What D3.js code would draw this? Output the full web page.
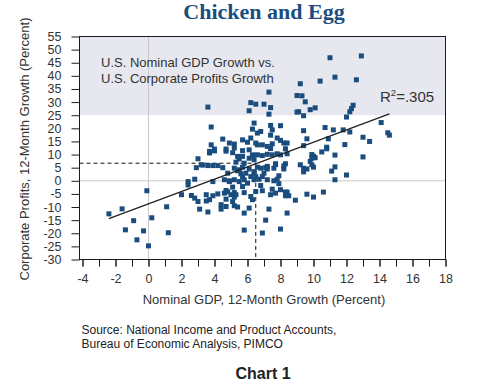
<!DOCTYPE html>
<html>
<head>
<meta charset="utf-8">
<script src="https://cdn.jsdelivr.net/npm/d3@7"></script>
<style>
  body{margin:0;background:#fff;}
  svg{display:block;font-family:"Liberation Sans",Arial,sans-serif;}
</style>
</head>
<body>
<svg id="chart" width="481" height="384"></svg>
<script>
// Nominal GDP growth (x) vs corporate profits growth (y), 12-month %
const gdpGrowth = [
  -2.4,-1.6,-0.9,-1.4,-0.7,-0.3,-0.1,0.2,0.0,1.1,1.2,
  2.0,2.4,2.4,2.8,2.6,2.8,3.0,3.1,3.6,3.5,3.7,3.9,4.2,4.4,4.4,4.7,4.7,4.7,4.8,4.9,
  5.1,5.2,5.3,5.2,5.1,5.2,5.4,5.8,5.8,6.3,6.1,6.5,6.8,6.9,6.9,7.1,7.3,7.5,8.0,7.9,
  7.8,7.6,7.9,8.3,8.4,8.3,8.5,8.9,9.6,10.0,10.6,8.4,11.3,11.1,11.3,12.0,9.2,9.4,9.4,9.6,
  9.9,9.8,9.9,10.1,9.9,10.0,7.7,8.2,8.3,7.6,8.2,
  11.0,12.9,9.2,10.4,11.3,12.6,9.3,9.5,9.1,9.4,9.8,10.1,12.4,12.3,12.2,12.0,14.1,14.5,14.6,13.0,
  13.4,10.7,11.2,11.8,12.2,9.4,9.6,9.4,10.9,10.8,10.8,10.5,11.9,11.3,13.0,10.0,8.0,7.5,7.4,7.8,
  8.0,8.2,8.4,7.5,7.4,8.3,8.4,8.0,7.8,7.5,
  3.6,7.3,6.2,6.5,7.0,7.4,6.1,7.3,9.0,9.0,3.8,6.4,7.4,6.3,6.6,6.8,
  4.5,4.9,5.2,5.7,6.0,6.2,6.5,6.9,7.2,5.2,3.8,4.0,3.7,4.7,5.7,6.1,6.6,
  3.0,2.9,3.2,3.3,3.6,3.9,4.2,4.5,3.7,4.0,4.7,5.1,5.3,5.5,5.7,5.8,6.1,6.3,6.4,6.6,6.9,7.2,7.7,7.2,7.1,
  5.2,5.5,5.7,5.9,6.1,6.4,6.6,6.8,7.0,7.2,5.4,6.3,
  4.6,4.9,5.2,5.7,5.8,6.0,6.2,6.4,6.7,7.2,
  5.0,5.7,5.8,6.2,6.9,7.4,7.7,8.0,3.5,3.9,4.6,
  4.8,5.4,5.6,5.5,6.4,6.5
];
const profitGrowth = [
  -12.6,-10.7,-15.2,-18.7,-22.5,-19.1,-3.8,-14.1,-24.8,-9.9,-19.8,
  -5.3,-0.3,-1.6,0.6,-5.6,-6.6,-7.9,-10.8,-11.9,-7.7,-7.2,-0.3,-5.0,-9.1,-10.8,-9.8,-7.0,-3.7,-4.2,0.0,
  -2.4,-4.5,-5.3,-6.2,-7.9,-9.5,-10.0,-12.3,-18.8,-7.2,-10.4,-4.1,-1.8,1.6,-19.9,-15.0,-10.8,-3.2,-18.4,1.9,
  0.6,0.0,-1.1,-4.3,-4.3,-5.7,-5.7,-7.4,-5.1,-6.2,-4.3,-12.3,0.4,3.7,5.3,2.2,6.1,4.8,3.4,4.5,
  6.1,7.4,10.0,8.8,8.6,5.2,6.2,5.7,6.5,4.8,4.5,
  46.9,47.6,37.0,38.0,39.5,38.5,32.4,30.1,26.3,24.8,27.1,27.8,28.8,27.5,26.3,24.3,22.2,18.3,17.4,16.6,
  15.0,20.3,19.4,19.4,18.6,19.1,16.0,13.4,16.0,12.8,12.2,11.0,13.8,9.8,9.1,9.3,21.0,19.4,17.4,16.3,
  15.4,14.4,14.4,14.1,12.3,12.2,10.3,9.9,10.3,9.9,
  28.1,33.8,29.8,29.2,29.2,27.9,26.7,25.4,32.5,26.2,20.5,22.0,21.1,19.7,18.2,18.8,
  15.9,14.4,14.0,15.6,14.7,16.3,14.4,13.7,13.1,12.5,13.7,12.1,11.2,12.1,11.5,11.8,13.7,
  8.4,5.0,6.1,6.0,5.8,5.8,5.8,5.0,10.6,11.4,11.3,10.7,7.1,8.3,9.3,6.7,8.6,9.9,8.0,9.9,9.6,10.1,6.5,5.5,5.0,
  4.8,4.2,5.2,2.9,4.5,3.5,5.2,4.8,2.9,4.5,9.3,9.5,
  0.4,-0.3,0.4,1.6,0.4,-0.9,1.6,0.4,0.6,0.4,
  -5.3,-2.2,-4.5,-6.0,-3.8,-5.3,-4.7,-3.4,-5.3,-5.7,-4.7,
  2.9,3.8,2.7,-0.3,2.7,1.6
];
const xTickLabels = [-4,-2,0,2,4,6,8,10,12,14,16,18];
const yTickLabels = [55,50,45,40,35,30,25,20,15,10,5,0,-5,-10,-15,-20,-25,-30];
const fitLine = { slope:2.35, intercept:-8.8, from:-2.4, to:14.6 };
const meanGdp = 6.5, meanProfit = 6.7;
const shadeBand = [25, 55];
const r2Text = '.305';
const sourceLines = ['Source: National Income and Product Accounts,', 'Bureau of Economic Analysis, PIMCO'];

const svg = d3.select('#chart');
const blue = '#1a4d7e', ink = '#333';
const L = 79.5, R = 445.5, T = 36.5, B = 259.5;

const x = d3.scaleLinear().domain([-4,18]).range([82.5,445.5]);
const y = d3.scaleLinear().domain([-30,55]).range([B,T]);

/* background band + grid */
svg.append('rect').attr('x',L).attr('y',y(shadeBand[1])).attr('width',R-L)
  .attr('height',y(shadeBand[0])-y(shadeBand[1])).attr('fill','#e6e7ef');
svg.append('line').attr('x1',x(0)).attr('x2',x(0)).attr('y1',T).attr('y2',B).attr('stroke','#c9c9c9');
svg.append('line').attr('x1',L).attr('x2',R).attr('y1',y(0)).attr('y2',y(0)).attr('stroke','#c9c9c9');

/* mean cross-hairs */
svg.append('path')
  .attr('d',`M${L},${y(meanProfit)}H${x(meanGdp)}V${B}`)
  .attr('fill','none').attr('stroke','#111').attr('stroke-dasharray','4,3');

/* points */
const pts = gdpGrowth.map((g,i)=>[g, profitGrowth[i]]);
svg.append('g').selectAll('rect').data(pts).join('rect')
  .attr('x',d=>x(d[0])-2.5).attr('y',d=>y(d[1])-2.5)
  .attr('width',5).attr('height',5).attr('fill',blue);

/* regression */
svg.append('line')
  .attr('x1',x(fitLine.from)).attr('y1',y(fitLine.intercept+fitLine.slope*fitLine.from))
  .attr('x2',x(fitLine.to)).attr('y2',y(fitLine.intercept+fitLine.slope*fitLine.to))
  .attr('stroke','#222').attr('stroke-width',1.3);

/* frame */
svg.append('rect').attr('x',L).attr('y',T).attr('width',R-L).attr('height',B-T)
  .attr('fill','none').attr('stroke','#1a1a1a');

/* axes */
const yAxis = svg.append('g').attr('transform',`translate(${L},0)`)
  .call(d3.axisLeft(y).tickValues(yTickLabels).tickSize(8).tickPadding(10).tickFormat(d=>String(d)));
const xMinor = svg.append('g').attr('transform',`translate(0,${B})`)
  .call(d3.axisBottom(x).tickValues(d3.range(-4,19)).tickSize(7).tickFormat(''));
const xAxis = svg.append('g').attr('transform',`translate(0,${B})`)
  .call(d3.axisBottom(x).tickValues(xTickLabels).tickSize(7).tickPadding(8).tickFormat(d=>String(d)));
[yAxis,xMinor,xAxis].forEach(a=>{
  a.select('.domain').remove();
  a.selectAll('line').attr('stroke','#1a1a1a');
  a.selectAll('text').attr('fill',ink).style('font-size','12.5px').style('font-family','"Liberation Sans",Arial,sans-serif');
});

/* titles & notes */
svg.append('text').attr('x',264).attr('y',19).attr('text-anchor','middle')
  .attr('fill',blue).style('font-family','"Liberation Serif","Times New Roman",serif')
  .style('font-weight','bold').style('font-size','22px').text('Chicken and Egg');

svg.append('text').attr('transform','translate(28.5,149) rotate(-90)').attr('text-anchor','middle')
  .attr('fill',ink).style('font-size','13px').text('Corporate Profits, 12-Month Growth (Percent)');
svg.append('text').attr('x',264).attr('y',303.5).attr('text-anchor','middle')
  .attr('fill',ink).style('font-size','13px').text('Nominal GDP, 12-Month Growth (Percent)');

const note = svg.append('text').attr('fill',ink).style('font-size','13px');
note.append('tspan').attr('x',101).attr('y',67).text('U.S. Nominal GDP Growth vs.');
note.append('tspan').attr('x',101).attr('y',83).text('U.S. Corporate Profits Growth');

const r2 = svg.append('text').attr('x',380).attr('y',102).attr('fill',ink).style('font-size','15px');
r2.append('tspan').text('R');
r2.append('tspan').attr('dy',-6).style('font-size','9.5px').text('2');
r2.append('tspan').attr('dy',6).text('=' + r2Text);

svg.append('g').selectAll('text').data(sourceLines).join('text')
  .attr('x',81.5).attr('y',(d,i)=>334+i*13.5).attr('fill','#222').style('font-size','12px').text(d=>d);

svg.append('text').attr('x',263).attr('y',379).attr('text-anchor','middle')
  .attr('fill','#222').style('font-weight','bold').style('font-size','16px').text('Chart 1');
</script>
</body>
</html>
